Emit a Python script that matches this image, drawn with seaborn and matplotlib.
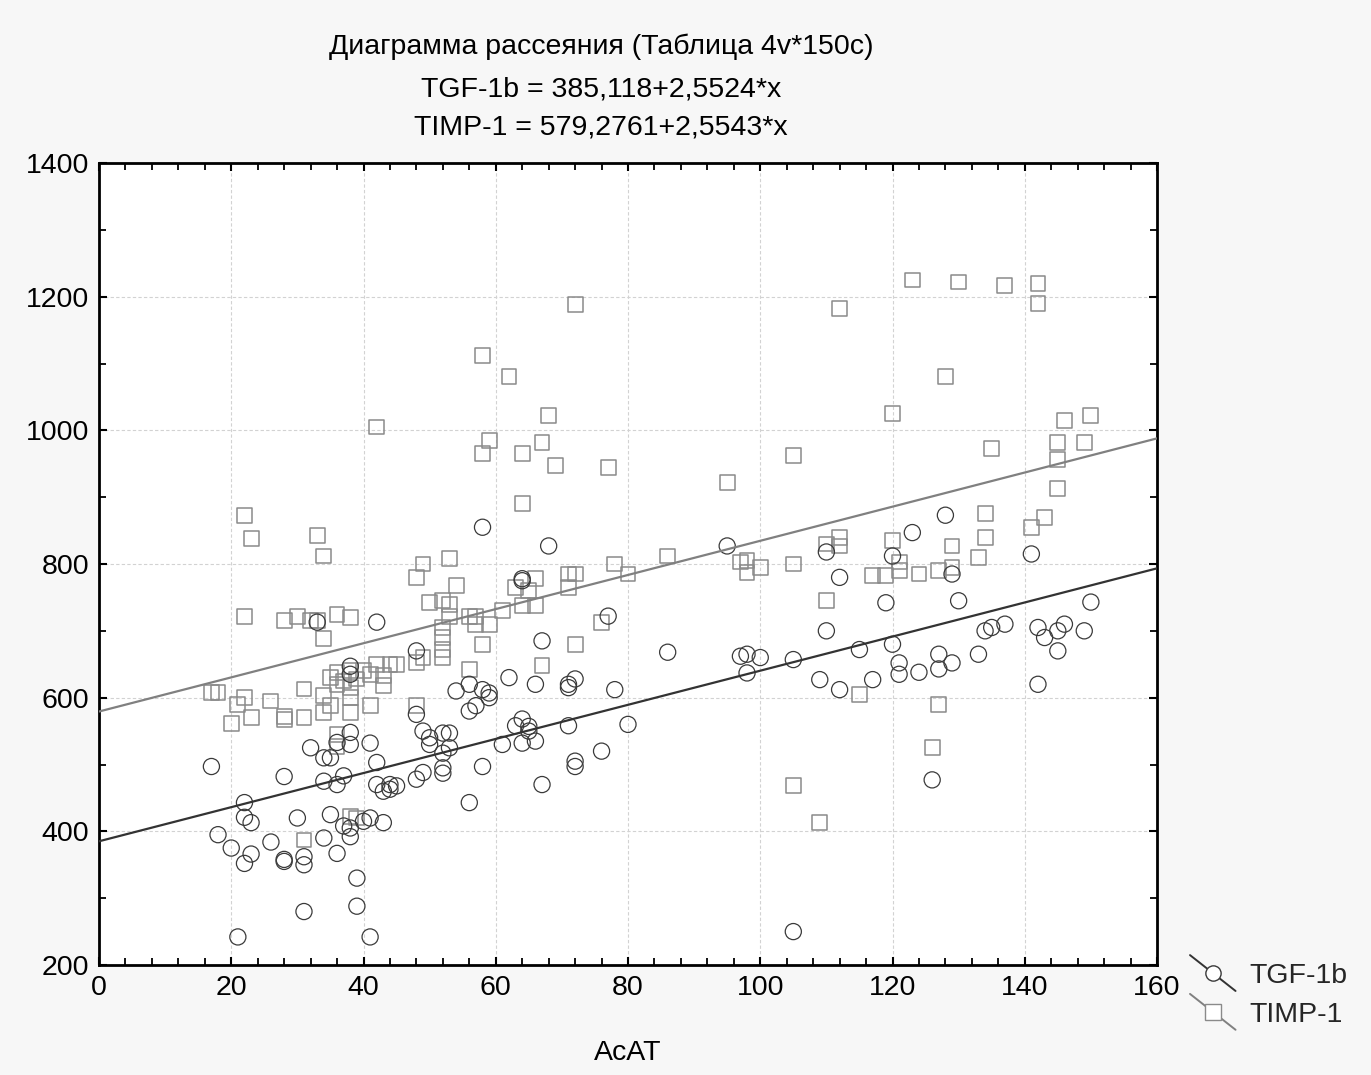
import numpy as np
import pandas as pd
import matplotlib
matplotlib.use("Agg")
import matplotlib.pyplot as plt
import seaborn as sns
from matplotlib.lines import Line2D
from matplotlib.legend_handler import HandlerBase
from matplotlib.ticker import MultipleLocator

# --- data -----------------------------------------------------------------
tgf_x = [17, 18, 20, 21, 22, 22, 22, 23, 23, 26, 28, 28, 28, 30, 31, 31, 31, 32, 33, 34,
         34, 34, 35, 35, 36, 36, 36, 37, 37, 38, 38, 38, 38, 38, 38, 39, 39, 40, 41, 41,
         41, 42, 42, 42, 43, 43, 44, 44, 45, 48, 48, 48, 49, 49, 50, 50, 52, 52, 52, 52,
         53, 53, 54, 56, 56, 56, 57, 58, 58, 58, 59, 59, 61, 62, 63, 64, 64, 64, 64, 65,
         65, 66, 66, 67, 67, 68, 71, 71, 71, 72, 72, 72, 76, 77, 78, 80, 86, 95, 97, 98,
         98, 100, 105, 105, 109, 110, 110, 112, 112, 115, 117, 119, 120, 120, 121, 121, 123, 124, 126, 127,
         127, 128, 129, 129, 130, 133, 134, 135, 137, 141, 142, 142, 143, 145, 145, 146, 149, 150]
tgf_y = [497, 395, 375, 242, 443, 421, 352, 413, 366, 384, 482, 358, 355, 420, 362, 350, 280, 525, 713, 510,
         475, 390, 510, 425, 533, 470, 367, 483, 408, 647, 635, 548, 530, 405, 392, 330, 288, 415, 532, 420,
         242, 713, 503, 470, 460, 413, 463, 470, 468, 670, 575, 478, 550, 488, 540, 530, 547, 517, 495, 487,
         547, 525, 610, 620, 580, 443, 588, 855, 612, 497, 607, 600, 530, 630, 558, 778, 775, 568, 532, 557,
         550, 620, 535, 685, 470, 827, 620, 615, 558, 628, 505, 497, 520, 722, 612, 560, 668, 827, 662, 665,
         637, 660, 657, 250, 627, 818, 700, 780, 612, 672, 627, 742, 812, 680, 652, 635, 847, 638, 477, 665,
         643, 873, 652, 785, 745, 665, 700, 705, 710, 815, 705, 620, 690, 700, 670, 710, 700, 743]

timp_x = [17, 18, 20, 21, 22, 22, 22, 23, 23, 26, 28, 28, 28, 30, 31, 31, 31, 32, 33, 33,
          34, 34, 34, 34, 35, 35, 36, 36, 36, 36, 36, 37, 38, 38, 38, 38, 38, 38, 39, 39,
          40, 41, 41, 42, 42, 43, 43, 44, 45, 48, 48, 48, 49, 49, 50, 52, 52, 52, 52, 52,
          53, 53, 53, 54, 56, 56, 57, 57, 58, 58, 58, 59, 59, 61, 62, 63, 64, 64, 64, 65,
          66, 66, 67, 67, 68, 69, 71, 71, 72, 72, 72, 76, 77, 78, 80, 86, 95, 97, 98, 98,
          100, 105, 105, 105, 109, 110, 110, 112, 112, 112, 115, 117, 119, 120, 120, 121, 121, 123, 124, 126,
          127, 127, 128, 129, 129, 130, 133, 134, 134, 135, 137, 141, 142, 142, 143, 145, 145, 145, 146, 149, 150]
timp_y = [608, 608, 562, 590, 873, 722, 600, 838, 570, 595, 715, 572, 568, 722, 613, 570, 387, 715, 843, 715,
          812, 688, 603, 578, 630, 588, 725, 637, 620, 545, 527, 625, 720, 640, 615, 600, 578, 422, 628, 420,
          640, 635, 588, 1005, 650, 633, 618, 650, 650, 780, 652, 588, 800, 660, 743, 745, 705, 690, 672, 660,
          808, 740, 722, 768, 722, 642, 722, 710, 1112, 965, 680, 985, 710, 730, 1080, 765, 965, 890, 738, 760,
          778, 738, 982, 648, 1022, 948, 785, 765, 1188, 785, 680, 713, 945, 800, 785, 812, 922, 803, 805, 787,
          795, 962, 800, 468, 413, 830, 745, 1182, 840, 827, 605, 783, 783, 1025, 835, 803, 790, 1225, 785, 525,
          790, 590, 1080, 827, 795, 1222, 810, 875, 840, 973, 1217, 855, 1220, 1190, 870, 982, 957, 913, 1015, 982, 1022]

# linear fits shown in the header
tgf_fit = (385.118, 2.5524)
timp_fit = (579.2761, 2.5543)
fit_x = [0, 160]

title_lines = ["Диаграмма рассеяния (Таблица 4v*150c)",
               "TGF-1b = 385,118+2,5524*x",
               "TIMP-1 = 579,2761+2,5543*x"]

# --- style ----------------------------------------------------------------
sns.set_theme(style="white")
plt.rcParams["font.family"] = ["Liberation Sans", "DejaVu Sans"]

FS = 20.5
TGF_COL = "#3a3a3a"
TIMP_COL = "#8a8a8a"
TGF_LINE = "#333333"
TIMP_LINE = "#808080"

fig = plt.figure(figsize=(13.71, 10.75), dpi=100, facecolor="#f7f7f7")
ax = fig.add_axes([99 / 1371, 1 - 965 / 1075, (1157 - 99) / 1371, (965 - 163) / 1075])
ax.set_facecolor("white")

tgf_df = pd.DataFrame({"x": tgf_x, "y": tgf_y})
timp_df = pd.DataFrame({"x": timp_x, "y": timp_y})
fit_df = pd.DataFrame({
    "x": fit_x,
    "tgf": [tgf_fit[0] + tgf_fit[1] * v for v in fit_x],
    "timp": [timp_fit[0] + timp_fit[1] * v for v in fit_x],
})

sns.scatterplot(data=timp_df, x="x", y="y", ax=ax, marker="s", s=115,
                facecolor="none", edgecolor=TIMP_COL, linewidth=1.1, zorder=3, legend=False)
sns.scatterplot(data=tgf_df, x="x", y="y", ax=ax, marker="o", s=135,
                facecolor="none", edgecolor=TGF_COL, linewidth=0.9, zorder=4, legend=False)
sns.lineplot(data=fit_df, x="x", y="timp", ax=ax, color=TIMP_LINE, linewidth=1.6, zorder=5)
sns.lineplot(data=fit_df, x="x", y="tgf", ax=ax, color=TGF_LINE, linewidth=1.6, zorder=5)

ax.set_xlim(0, 160)
ax.set_ylim(200, 1400)
ax.xaxis.set_major_locator(MultipleLocator(20))
ax.xaxis.set_minor_locator(MultipleLocator(4))
ax.yaxis.set_major_locator(MultipleLocator(200))
ax.yaxis.set_minor_locator(MultipleLocator(100))
ax.tick_params(which="both", direction="in", top=True, right=True, bottom=True, left=True,
               labelsize=FS, colors="black", pad=7)
ax.tick_params(which="major", length=6, width=1.5)
ax.tick_params(which="minor", length=5, width=1.3)
for lab in ax.get_xticklabels() + ax.get_yticklabels():
    lab.set_color("black")
ax.grid(True, which="major", linestyle=(0, (3, 2)), color="#d2d2d2", linewidth=0.8)
for sp in ax.spines.values():
    sp.set_color("black")
    sp.set_linewidth(2)
ax.set_xlabel("AcAT", fontsize=FS, color="black", labelpad=28)
ax.set_ylabel("")

# header lines
for txt, ypix in zip(title_lines, [47, 90, 127]):
    fig.text(601 / 1371, 1 - ypix / 1075, txt, ha="center", va="center", fontsize=FS, color="black")


class DiagonalHandler(HandlerBase):
    def create_artists(self, legend, orig_handle, xdescent, ydescent, width, height, fontsize, trans):
        x0, y0 = -xdescent, -ydescent
        line = Line2D([x0, x0 + width], [y0 + height * 1.4, y0 - height * 0.4],
                      color=orig_handle.get_color(), linewidth=1.4)
        mk = Line2D([x0 + width / 2], [y0 + height / 2], marker=orig_handle.get_marker(),
                    markersize=orig_handle.get_markersize(), markerfacecolor="white",
                    markeredgecolor=orig_handle.get_markeredgecolor(), markeredgewidth=1.0,
                    linestyle="none")
        line.set_transform(trans)
        mk.set_transform(trans)
        return [line, mk]


h_tgf = Line2D([], [], color=TGF_LINE, marker="o", markersize=11, markeredgecolor=TGF_COL)
h_timp = Line2D([], [], color=TIMP_LINE, marker="s", markersize=11, markeredgecolor=TIMP_COL)
fig.legend([h_tgf, h_timp], ["TGF-1b", "TIMP-1"],
           handler_map={Line2D: DiagonalHandler()},
           loc="upper left", bbox_to_anchor=(1190 / 1371, 1 - 963 / 1075),
           frameon=False, fontsize=FS, handlelength=1.6, handletextpad=0.5,
           labelspacing=0.45, borderaxespad=0, borderpad=0)

fig.savefig("out.png", dpi=100, facecolor=fig.get_facecolor())
